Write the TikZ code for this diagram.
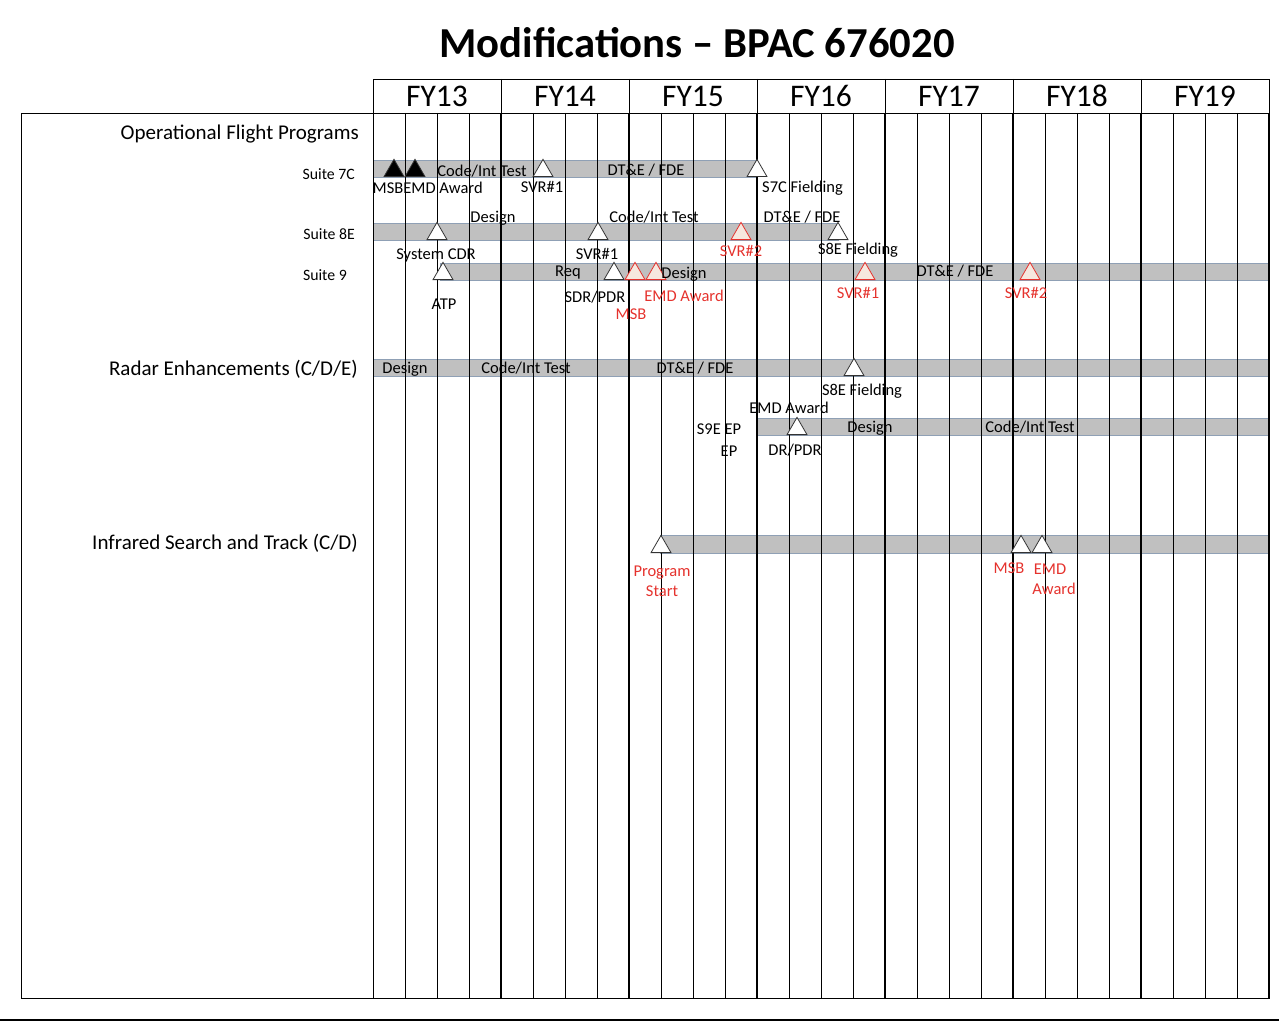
\documentclass[tikz,border=0pt]{standalone}
\usepackage{fontspec}
\setmainfont{Carlito}
\usetikzlibrary{shapes.geometric}
\definecolor{barfill}{HTML}{C0C0C0}
\definecolor{baredge}{HTML}{8FA0B5}
\definecolor{msred}{HTML}{E5322D}
\definecolor{msfill}{HTML}{F6E8DF}
\tikzset{
  bar/.style={fill=barfill,draw=baredge,line width=0.8pt},
  ms/.style={regular polygon,regular polygon sides=3,minimum size=23pt,inner sep=0pt,
    anchor=south,draw=black!80,fill=white,line width=0.8pt},
  msdone/.style={ms,fill=black},
  msnew/.style={ms,draw=msred,fill=msfill},
  lbl/.style={font=\fontsize{16.5}{19}\selectfont,inner sep=0pt,anchor=base,yshift=-5.3pt},
  redlbl/.style={lbl,text=msred},
  rowname/.style={font=\fontsize{15.8}{18}\selectfont,anchor=base east,inner sep=0pt,yshift=-5pt},
  groupname/.style={font=\fontsize{21}{24}\selectfont,anchor=base east,inner sep=0pt,yshift=-6.8pt},
  fy/.style={font=\fontsize{31.5}{36}\selectfont,inner sep=0pt,anchor=base,yshift=-10pt}
}
\begin{document}
\begin{tikzpicture}[x=1pt,y=-1pt]
\useasboundingbox (0,0) rectangle (1279,1022);
\node[font=\fontsize{42.7}{48}\selectfont\bfseries,anchor=base,yshift=-13.7pt] (title) at (697,44) {Modifications – BPAC 676020};
% header
\draw (373,79) rectangle (1269,113);
\foreach \n in {1,...,6} \draw (373+128*\n,79) -- (373+128*\n,113);
\foreach \i [count=\n from 0] in {13,...,19} \node[fy] (fy\i) at (437+128*\n,97) {FY\i};
% body
\draw (21,113) rectangle (1269,998);
\node[groupname] (ofp) at (359,133) {Operational Flight Programs};
\node[rowname] (r7c) at (355,174) {Suite 7C};
\node[rowname] (r8e) at (355,234) {Suite 8E};
\node[rowname] (r9) at (347,275) {Suite 9};
\node[groupname] (radar) at (358,369) {Radar Enhancements (C/D/E)};
\node[groupname] (irst) at (358,543) {Infrared Search and Track (C/D)};
% bars
\draw[bar] (373,160) rectangle (757,177);
\draw[bar] (373,223) rectangle (838,240);
\draw[bar] (440,263) rectangle (1269,280);
\draw[bar] (373,359) rectangle (1269,376);
\draw[bar] (757,418) rectangle (1269,435);
\draw[bar] (660,535) rectangle (1269,553);
% quarters and years
\foreach \q in {0,...,27} \draw[line width=0.8pt] (373+32*\q,113) -- (373+32*\q,998);
\foreach \n in {1,...,7} \draw[line width=2.2pt] (373+128*\n,113) -- (373+128*\n,998);
\draw[line width=1.5pt] (0,1020) -- (1279,1020);
% Suite 7C
\node[msdone] (s7msb) at (394,177) {};
\node[msdone] (s7emd) at (415,177) {};
\node[ms] (s7svr) at (543,177) {};
\node[ms] (s7fld) at (757,177) {};
\node[lbl] (s7msbl) at (388,188) {MSB};
\node[lbl] (s7emdl) at (443,188) {EMD Award};
\node[lbl] (s7code) at (482,171) {Code/Int Test};
\node[lbl] (s7svrl) at (542,187) {SVR\#1};
\node[lbl] (s7dte) at (646,170) {DT\&E / FDE};
\node[lbl,anchor=base west] (s7fldl) at (762,187) {S7C Fielding};
% Suite 8E
\node[ms] (s8cdr) at (437,240) {};
\node[ms] (s8svr1) at (598,240) {};
\node[msnew] (s8svr2) at (741,240) {};
\node[ms] (s8fld) at (838,240) {};
\node[lbl] (s8des) at (493,217) {Design};
\node[lbl] (s8code) at (654,217) {Code/Int Test};
\node[lbl] (s8dte) at (802,217) {DT\&E / FDE};
\node[lbl] (s8cdrl) at (436,254) {System CDR};
\node[lbl] (s8svr1l) at (597,254) {SVR\#1};
\node[redlbl] (s8svr2l) at (741,251) {SVR\#2};
\node[lbl] (s8fldl) at (858,249) {S8E Fielding};
% Suite 9
\node[ms] (s9atp) at (443,280) {};
\node[ms] (s9pdr) at (614,280) {};
\node[msnew] (s9msb) at (635,280) {};
\node[msnew] (s9emd) at (656,280) {};
\node[msnew] (s9svr1) at (865,280) {};
\node[msnew] (s9svr2) at (1030,280) {};
\node[lbl] (s9atpl) at (444,304) {ATP};
\node[lbl] (s9req) at (568,271) {Req};
\node[lbl] (s9pdrl) at (595,297) {SDR/PDR};
\node[redlbl] (s9msbl) at (631,314) {MSB};
\node[redlbl] (s9emdl) at (684,296) {EMD Award};
\node[lbl] (s9des) at (684,273) {Design};
\node[redlbl] (s9svr1l) at (858,293) {SVR\#1};
\node[lbl] (s9dte) at (955,271) {DT\&E / FDE};
\node[redlbl] (s9svr2l) at (1026,293) {SVR\#2};
% Radar
\node[ms] (rdfld) at (854,376) {};
\node[lbl] (rddes) at (405,368) {Design};
\node[lbl] (rdcode) at (526,368) {Code/Int Test};
\node[lbl] (rddte) at (695,368) {DT\&E / FDE};
\node[lbl] (rdfldl) at (862,390) {S8E Fielding};
% S9E EP
\node[ms] (eppdr) at (797,435) {};
\node[lbl] (epemd) at (789,408) {EMD Award};
\node[lbl] (eppdrl) at (795,450) {DR/PDR};
\node[lbl] (epdes) at (870,427) {Design};
\node[lbl] (epcode) at (1030,427) {Code/Int Test};
\node[lbl] (epname) at (719,429) {S9E EP};
\node[lbl] (epname2) at (729,451) {EP};
% IRST
\node[ms] (irstart) at (661,553) {};
\node[ms] (irmsb) at (1021,553) {};
\node[ms] (iremd) at (1042,553) {};
\node[redlbl] (irstartl) at (662,571) {Program};
\node[redlbl] (irstartl2) at (662,591) {Start};
\node[redlbl] (irmsbl) at (1009,568) {MSB};
\node[redlbl] (iremdl) at (1050,569) {EMD};
\node[redlbl] (iremdl2) at (1054,589) {Award};
\end{tikzpicture}
\end{document}
